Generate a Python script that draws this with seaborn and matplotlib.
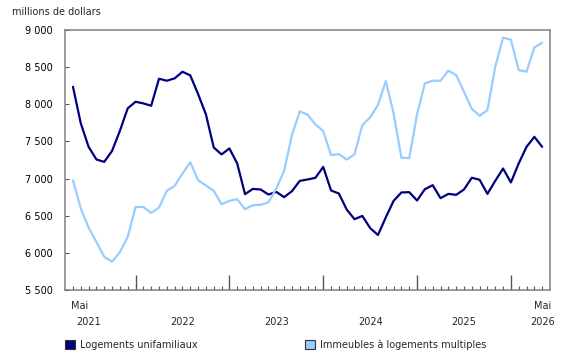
import matplotlib
matplotlib.use("Agg")
import matplotlib.pyplot as plt
from matplotlib.patches import Patch
from matplotlib.ticker import FixedLocator, FuncFormatter
import seaborn as sns
import pandas as pd
import numpy as np

# Monthly values, May 2021 .. May 2026 (millions de dollars)
unifamiliaux = [8236, 7743, 7427, 7257, 7225, 7373, 7643, 7945, 8034, 8012, 7980, 8344,
                8317, 8349, 8438, 8389, 8137, 7864, 7419, 7325, 7406, 7204, 6790, 6861,
                6853, 6785, 6821, 6750, 6830, 6969, 6988, 7010, 7157, 6840, 6799, 6584,
                6453, 6497, 6334, 6240, 6477, 6700, 6813, 6817, 6705, 6857, 6911, 6736,
                6794, 6781, 6853, 7011, 6984, 6794, 6970, 7135, 6948, 7204, 7427, 7562,
                7427]
multiples = [6978, 6596, 6340, 6147, 5945, 5883, 6008, 6214, 6618, 6618, 6537, 6610,
             6834, 6902, 7067, 7221, 6978, 6907, 6834, 6655, 6700, 6722, 6588, 6642,
             6646, 6681, 6866, 7103, 7585, 7905, 7860, 7730, 7639, 7315, 7329, 7256,
             7325, 7720, 7823, 7989, 8313, 7877, 7280, 7275, 7864, 8281, 8317, 8317,
             8452, 8394, 8169, 7940, 7845, 7922, 8506, 8897, 8870, 8461, 8438, 8766,
             8829]
series_names = ["Logements unifamiliaux", "Immeubles à logements multiples"]
colors = ["#000080", "#99CCFF"]
months = pd.date_range("2021-05-01", "2026-05-01", freq="MS")
year_labels = ["2021", "2022", "2023", "2024", "2025", "2026"]
y_ticks = [5500, 6000, 6500, 7000, 7500, 8000, 8500, 9000]

idx = np.arange(len(months))
df = pd.DataFrame({
    "idx": np.concatenate([idx, idx]),
    "valeur": unifamiliaux + multiples,
    "serie": [series_names[0]] * len(idx) + [series_names[1]] * len(idx),
})

sns.set_style("white")
plt.rcParams["font.family"] = ["DejaVu Sans"]
FS = 7.0

fig = plt.figure(figsize=(5.8, 3.6), dpi=100)
ax = fig.add_axes([65 / 580, 1 - 290 / 360, 485 / 580, 260 / 360])

sns.lineplot(data=df, x="idx", y="valeur", hue="serie", hue_order=series_names,
             palette=colors, linewidth=1.6, legend=False, ax=ax)

ax.set_xlim(-1.02, 61)
ax.set_ylim(5500, 9000)
ax.set_xlabel("")
ax.set_ylabel("")

for s in ax.spines.values():
    s.set_color("#808080")
    s.set_linewidth(1.1)
    s.set_visible(True)

# x ticks: minor every month, major each January
jan_idx = [i for i, m in enumerate(months) if m.month == 1]
ax.xaxis.set_major_locator(FixedLocator(jan_idx))
ax.xaxis.set_minor_locator(FixedLocator(list(idx)))
ax.tick_params(axis="x", which="major", direction="in", length=11, width=1.0,
               color="#555555", labelbottom=False, bottom=True)
ax.tick_params(axis="x", which="minor", direction="in", length=3, width=0.8,
               color="#555555", bottom=True)

ax.yaxis.set_major_locator(FixedLocator(y_ticks))
ax.yaxis.set_major_formatter(FuncFormatter(lambda v, p: f"{int(v):,}".replace(",", " ")))
ax.tick_params(axis="y", direction="in", length=3, width=0.8, color="#555555",
               labelsize=FS, pad=9, left=True, labelcolor="#000000")

# year labels
trans = ax.get_xaxis_transform()
year_pos = [2.0, 14.0, 26.0, 38.0, 50.0, 60.0]
for lab, xp in zip(year_labels, year_pos):
    ax.text(xp, -0.122, lab, transform=trans, ha="center", va="center", fontsize=FS)
ax.text(0.85, -0.0615, "Mai", transform=trans, ha="center", va="center", fontsize=FS)
ax.text(60.1, -0.0615, "Mai", transform=trans, ha="center", va="center", fontsize=FS)

fig.text(12 / 580, 1 - 12 / 360, "millions de dollars", ha="left", va="center", fontsize=FS)

# legend
for name, col, xl in zip(series_names, colors, [65, 305]):
    fig.legend(handles=[Patch(facecolor=col, edgecolor="#333333", linewidth=0.8)],
               labels=[name], loc="center left", bbox_to_anchor=(xl / 580, 1 - 345 / 360),
               frameon=False, fontsize=FS, handlelength=1.05, handleheight=1.05,
               handletextpad=0.45, borderpad=0, borderaxespad=0)

fig.savefig("out.png", dpi=100)
